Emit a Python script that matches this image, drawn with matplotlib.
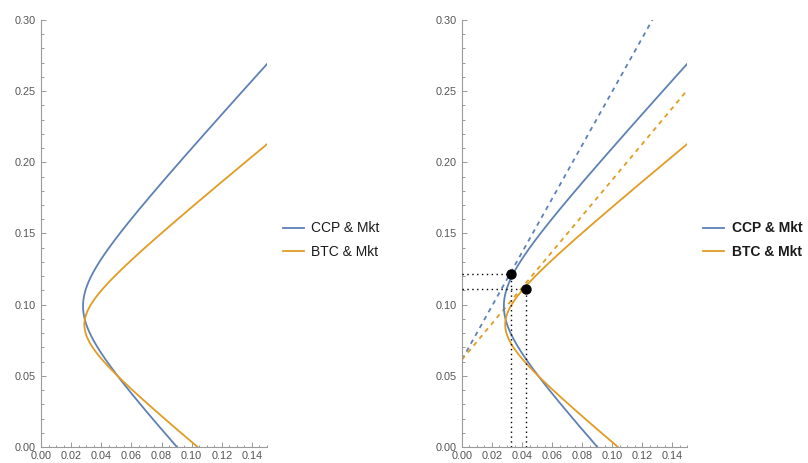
import numpy as np
import matplotlib
matplotlib.use("Agg")
import matplotlib.pyplot as plt
from matplotlib.ticker import MultipleLocator, FixedLocator

plt.rcParams['font.family'] = ['Liberation Sans', 'DejaVu Sans']

# ---- data ----
series_names = ["CCP & Mkt", "BTC & Mkt"]
series_colors = ["#5E81B5", "#E19C24"]
min_var_sigma = [0.0279, 0.0288]      # leftmost point of each frontier (x)
min_var_mu = [0.099, 0.086]           # return at that point (y)
asym_slope = [1.154, 0.861]           # asymptotic slope of each frontier
risk_free = 0.0615                    # intercept of the dashed lines
cml_slope = [1.88, 1.26]              # slopes of the dashed lines
tangent_sigma = [0.0327, 0.0427]      # black dots (x)
tangent_mu = [0.1216, 0.111]          # black dots (y)
x_ticks = [0.00, 0.02, 0.04, 0.06, 0.08, 0.10, 0.12, 0.14]
y_ticks = [0.00, 0.05, 0.10, 0.15, 0.20, 0.25, 0.30]

W, H = 808, 463
fig = plt.figure(figsize=(W / 100, H / 100), dpi=100)

def style_axes(ax):
    ax.set_xlim(0, 0.15)
    ax.set_ylim(0, 0.30)
    for s in ["top", "right"]:
        ax.spines[s].set_visible(False)
    for s in ["left", "bottom"]:
        ax.spines[s].set_color("#9a9a9a")
        ax.spines[s].set_linewidth(0.8)
    ax.xaxis.set_major_locator(FixedLocator(x_ticks))
    ax.yaxis.set_major_locator(FixedLocator(y_ticks))
    ax.xaxis.set_minor_locator(MultipleLocator(0.005))
    ax.yaxis.set_minor_locator(MultipleLocator(0.01))
    ax.set_xticklabels([f"{v:.2f}" for v in x_ticks])
    ax.set_yticklabels([f"{v:.2f}" for v in y_ticks])
    ax.tick_params(which="both", direction="in", color="#9a9a9a", width=0.7,
                   labelsize=7.8, labelcolor="#555555")
    ax.tick_params(axis="x", which="both", pad=3.0)
    ax.tick_params(axis="y", which="both", pad=4.0)
    ax.tick_params(which="major", length=3.5)
    ax.tick_params(which="minor", length=1.8)

mu_grid = np.linspace(0, 0.32, 600)

def frontier(i):
    sig = np.sqrt(min_var_sigma[i] ** 2 + ((mu_grid - min_var_mu[i]) / asym_slope[i]) ** 2)
    return sig, mu_grid

ax1 = fig.add_axes([41 / W, 16 / H, 226 / W, 427 / H])
ax2 = fig.add_axes([462 / W, 16 / H, 225 / W, 427 / H])

for ax in (ax1, ax2):
    style_axes(ax)
    for i in range(2):
        s, m = frontier(i)
        ax.plot(s, m, color=series_colors[i], lw=1.3, label=series_names[i], zorder=3)

# right panel extras
xs = np.array([0.0, 0.15])
for i in range(2):
    ax2.plot(xs, risk_free + cml_slope[i] * xs, color=series_colors[i], lw=1.3,
             ls=(0, (2.5, 2.5)), zorder=2)
for i in range(2):
    ax2.plot([0, tangent_sigma[i]], [tangent_mu[i], tangent_mu[i]], color="black",
             lw=1.0, ls=(0, (1, 2.5)), zorder=4)
    ax2.plot([tangent_sigma[i], tangent_sigma[i]], [0, tangent_mu[i]], color="black",
             lw=1.0, ls=(0, (1, 2.5)), zorder=4)
ax2.scatter(tangent_sigma, tangent_mu, s=42, color="black", zorder=5)

leg1 = ax1.legend(loc="center left", bbox_to_anchor=(283 / W, 1 - 240 / H),
                  bbox_transform=fig.transFigure, frameon=False, fontsize=10,
                  borderpad=0, borderaxespad=0,
                  handlelength=1.5, handletextpad=0.55, labelspacing=0.65)
leg2 = ax2.legend(loc="center left", bbox_to_anchor=(703 / W, 1 - 240 / H),
                  bbox_transform=fig.transFigure, frameon=False,
                  prop={"weight": "bold", "size": 10},
                  borderpad=0, borderaxespad=0,
                  handlelength=1.5, handletextpad=0.6, labelspacing=0.65)
for leg in (leg1, leg2):
    for t in leg.get_texts():
        t.set_color("#1a1a1a")

fig.savefig("out.png", dpi=100)
